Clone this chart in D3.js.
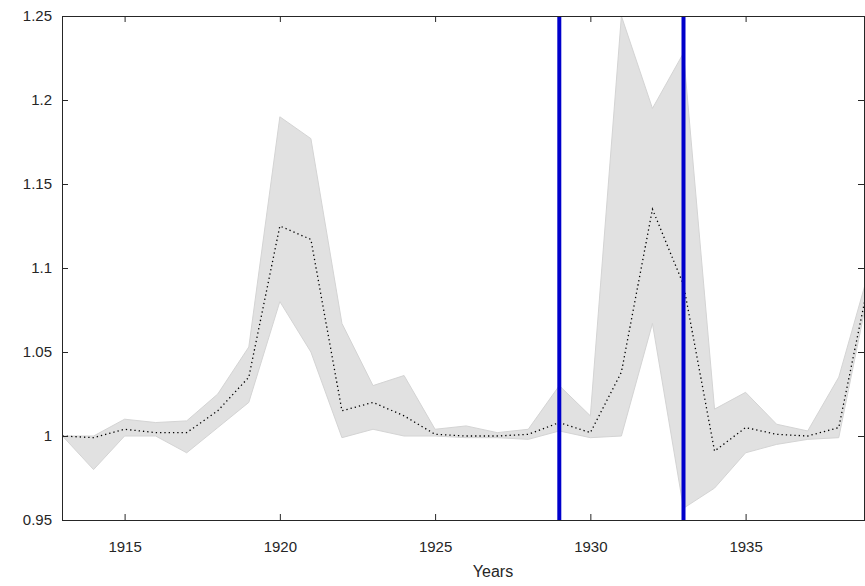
<!DOCTYPE html>
<html><head><meta charset="utf-8">
<script src="https://cdn.jsdelivr.net/npm/d3@7"></script>
<style>body{margin:0;background:#fff}text{font-family:"Liberation Sans",Arial,sans-serif}</style>
</head><body><svg id="c" width="865" height="586"></svg>
<script>
const years = d3.range(1913, 1940);
const upper = [1.0,1.0,1.01,1.008,1.009,1.025,1.053,1.19,1.177,1.067,1.03,1.036,1.004,1.006,1.002,1.004,1.03,1.012,1.25,1.195,1.228,1.016,1.026,1.007,1.003,1.035,1.1];
const lower = [1.0,0.98,1.0,1.0,0.99,1.005,1.02,1.08,1.05,0.999,1.004,1.0,1.0,0.999,0.999,0.998,1.003,0.999,1.0,1.067,0.957,0.969,0.99,0.995,0.998,0.999,1.09];
const median = [1.0,0.999,1.004,1.002,1.002,1.015,1.035,1.125,1.117,1.015,1.02,1.012,1.001,1.0,1.0,1.001,1.008,1.002,1.038,1.135,1.09,0.991,1.005,1.001,1.0,1.005,1.095];
const markers = [1929, 1933];
const xTicks = [1915, 1920, 1925, 1930, 1935];
const yTicks = [0.95, 1, 1.05, 1.1, 1.15, 1.2, 1.25];

const L = 62, R = 864, T = 16, B = 520;
const x = d3.scaleLinear().domain([1913, 1939]).range([62.5, 62.5 + 26 * 31.05]);
const y = d3.scaleLinear().domain([0.95, 1.25]).range([B, T]);
const svg = d3.select('#c');
svg.append('clipPath').attr('id', 'clip').append('rect').attr('x', L).attr('y', T).attr('width', R - L).attr('height', B - T);
const g = svg.append('g').attr('clip-path', 'url(#clip)');

g.append('path').datum(years.map((d, i) => i))
  .attr('d', d3.area().x(i => x(years[i])).y0(i => y(lower[i])).y1(i => y(upper[i])))
  .attr('fill', '#e1e1e1').attr('stroke', '#d4d4d4');
g.append('path').datum(years.map((d, i) => i))
  .attr('d', d3.line().x(i => x(years[i])).y(i => y(median[i])))
  .attr('fill', 'none').attr('stroke', '#000').attr('stroke-width', 1.3).attr('stroke-dasharray', '1.3,3');
g.selectAll('.m').data(markers).join('line')
  .attr('x1', d => x(d)).attr('x2', d => x(d)).attr('y1', T).attr('y2', B)
  .attr('stroke', '#0000cc').attr('stroke-width', 4);

const ax = (a, tr) => svg.append('g').attr('transform', tr).call(a)
  .call(s => s.select('.domain').attr('stroke', '#262626'))
  .call(s => s.selectAll('.tick line').attr('stroke', '#262626'))
  .call(s => s.selectAll('text').attr('font-size', 15).attr('fill', '#262626'));
ax(d3.axisBottom(x).tickValues(xTicks).tickFormat(d3.format('d')).tickSizeInner(-6).tickSizeOuter(0).tickPadding(21), `translate(0,${B})`);
ax(d3.axisTop(x).tickValues(xTicks).tickFormat('').tickSizeInner(-6).tickSizeOuter(0), `translate(0,${T})`);
ax(d3.axisLeft(y).tickValues(yTicks).tickFormat(d => d3.format('~g')(d)).tickSizeInner(-6).tickSizeOuter(0).tickPadding(10), `translate(${L},0)`);
ax(d3.axisRight(y).tickValues(yTicks).tickFormat('').tickSizeInner(-6).tickSizeOuter(0), `translate(${R},0)`);
svg.append('text').attr('x', (L + R) / 2 + 30).attr('y', 577).attr('text-anchor', 'middle')
  .attr('font-size', 16).attr('fill', '#262626').text('Years');
</script></body></html>
